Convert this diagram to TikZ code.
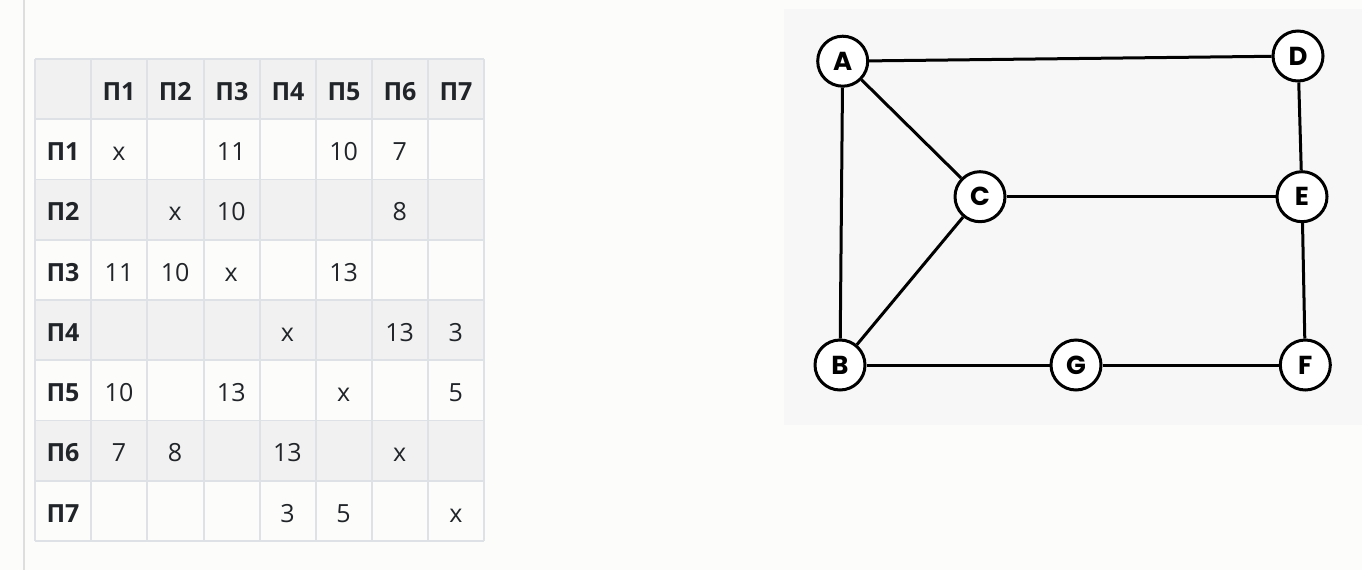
\documentclass[tikz,border=0pt]{standalone}
\usepackage{fontspec}
\setmainfont{Open Sans}
\newfontfamily\gfont{Poppins}
\definecolor{pagebg}{HTML}{FCFCFB}
\definecolor{grid}{HTML}{DEE2E6}
\definecolor{rowgray}{HTML}{F1F1F1}
\definecolor{txt}{HTML}{212529}
\definecolor{boxbg}{HTML}{F7F7F7}
\definecolor{sidebar}{HTML}{DEDEDE}
\tikzset{
  celltext/.style={anchor=base, inner sep=0pt, text=txt, font=\fontsize{25}{30}\selectfont},
  headtext/.style={celltext, font=\fontsize{25}{30}\selectfont\bfseries},
  vertex/.style={circle, draw=black, line width=3pt, fill=white, minimum size=50pt, inner sep=0pt,
    font=\gfont\bfseries\fontsize{26}{28}\selectfont},
  edge/.style={draw=black, line width=3pt}
}
\begin{document}
\begin{tikzpicture}[x=1pt,y=-1pt]
\useasboundingbox (0,0) rectangle (1362,570);
\fill[pagebg] (0,0) rectangle (1362,570);
\draw[sidebar, line width=2pt] (23.5,0) -- (23.5,570);
% table fills
\fill[rowgray] (35,59) rectangle (484,119.25);
\fill[rowgray] (35,179.5) rectangle (484,239.75);
\fill[rowgray] (35,300) rectangle (484,360.25);
\fill[rowgray] (35,420.5) rectangle (484,480.75);
% grid
\foreach \x in {35,91,147,203.7,260,316,372,428,484}
  \draw[grid, line width=1.6pt] (\x,59) -- (\x,541);
\foreach \y in {59,119.25,179.5,239.75,300,360.25,420.5,480.75,541}
  \draw[grid, line width=1.6pt] (35,\y) -- (484,\y);
% header row
\foreach \c/\cx in {1/119,2/175.3,3/231.85,4/288,5/344,6/400,7/456}
  \node[headtext] (h-\c) at (\cx,100.6) {П\c};
% row labels
\foreach \r/\ry in {1/149.4,2/209.6,3/269.9,4/330.1,5/390.4,6/450.6,7/510.9}
  \node[headtext] (r-\r) at (63,\ry+11.3) {П\r};
% cells: row/col/text
\foreach \r/\c/\t in {
  1/1/x, 1/3/11, 1/5/10, 1/6/7,
  2/2/x, 2/3/10, 2/6/8,
  3/1/11, 3/2/10, 3/3/x, 3/5/13,
  4/4/x, 4/6/13, 4/7/3,
  5/1/10, 5/3/13, 5/5/x, 5/7/5,
  6/1/7, 6/2/8, 6/4/13, 6/6/x,
  7/4/3, 7/5/5, 7/7/x}
{
  \pgfmathsetmacro{\cx}{119 + (\c-1)*56.14}
  \pgfmathsetmacro{\cy}{149.4 + (\r-1)*60.25 + 11.3}
  \node[celltext] (c-\r-\c) at (\cx,\cy) {\t};
}
% graph panel
\fill[boxbg] (784,9) rectangle (1362,425);
\node[vertex] (A) at (842.7,61.2) {A};
\node[vertex] (D) at (1298,56) {D};
\node[vertex] (C) at (980,196.7) {C};
\node[vertex] (E) at (1302,196.7) {E};
\node[vertex] (B) at (840,365) {B};
\node[vertex] (G) at (1076,365) {G};
\node[vertex] (F) at (1305.3,365) {F};
\draw[edge] (A) -- (D);
\draw[edge] (A) -- (C);
\draw[edge] (A) -- (B);
\draw[edge] (C) -- (E);
\draw[edge] (C) -- (B);
\draw[edge] (D) -- (E);
\draw[edge] (E) -- (F);
\draw[edge] (B) -- (G);
\draw[edge] (G) -- (F);
\end{tikzpicture}
\end{document}
